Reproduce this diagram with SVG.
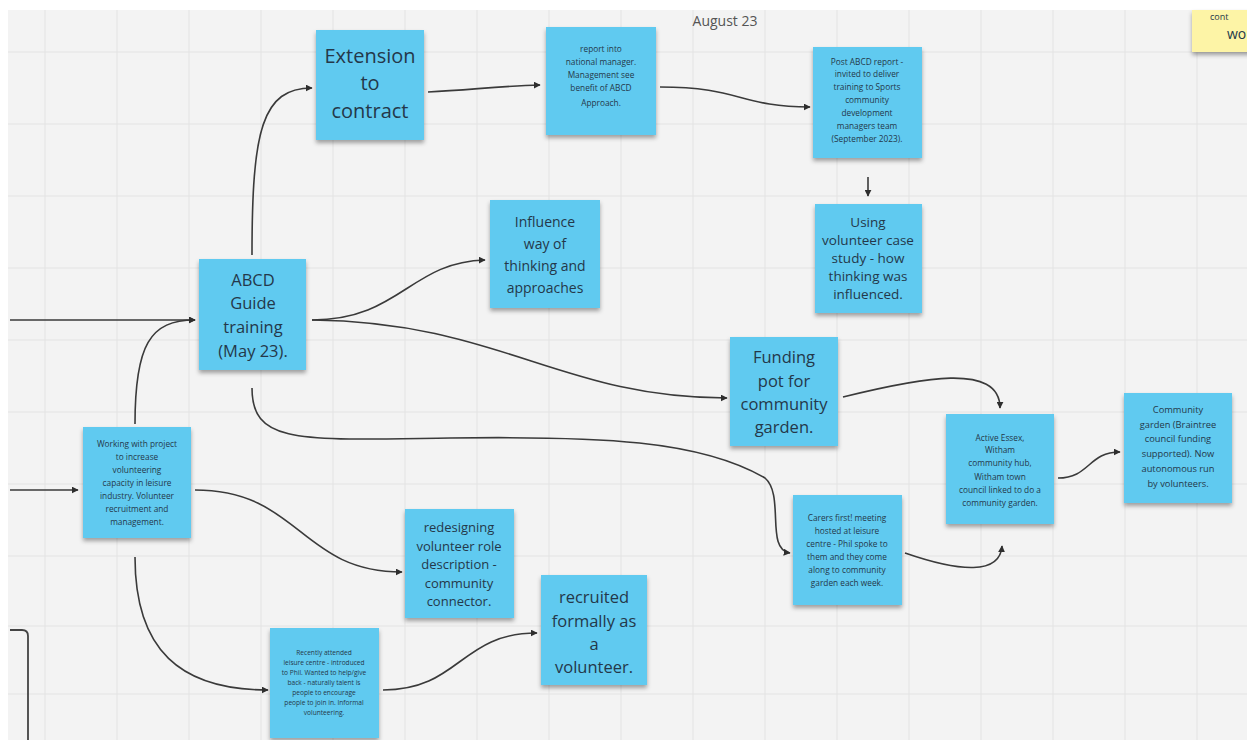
<svg xmlns="http://www.w3.org/2000/svg" width="1247" height="740" viewBox="0 0 1247 740">
<style>
.note{fill:#60caf0;filter:url(#sh)}
.t{font-family:"Open Sans","Noto Sans","Liberation Sans",sans-serif;fill:#24384a;text-anchor:middle;dominant-baseline:central}
.xl{font-size:20px}.l{font-size:16.5px}.m{font-size:13.5px}.s{font-size:8.3px}.xs{font-size:6.6px}
.c{fill:none;stroke:#3a3a3a;stroke-width:1.6;marker-end:url(#ah)}
.g{stroke:#e3e3e3;stroke-width:1}
</style>
<defs>
<filter id="sh" x="-10%" y="-10%" width="120%" height="130%"><feDropShadow dx="0" dy="3" stdDeviation="2" flood-color="#000" flood-opacity="0.35"/></filter>
<marker id="ah" viewBox="0 0 10 10" refX="9" refY="5" markerWidth="7" markerHeight="7" orient="auto" markerUnits="userSpaceOnUse"><path d="M0,0 L10,5 L0,10 z" fill="#2e2e2e"/></marker>
</defs>
<rect width="1247" height="740" fill="#ffffff"/>
<rect x="8" y="10" width="1239" height="730" fill="#f3f3f3"/>
<g id="grid">
<path class="g" d="M45,10V740M117,10V740M189,10V740M261,10V740M333,10V740M405,10V740M477,10V740M549,10V740M621,10V740M693,10V740M765,10V740M837,10V740M909,10V740M981,10V740M1053,10V740M1125,10V740M1197,10V740"/>
<path class="g" d="M8,52H1247M8,124H1247M8,196H1247M8,268H1247M8,340H1247M8,412H1247M8,484H1247M8,556H1247M8,626H1247M8,694H1247"/>
</g>
<text class="t" x="725" y="20" style="font-size:14px;fill:#555">August 23</text>
<g id="connectors">
<path class="c" d="M10,320 H195"/>
<path class="c" d="M135,424 C135,345 150,320 195,320"/>
<path class="c" d="M10,490 H78"/>
<path class="c" d="M252,255 C252,130 262,88 312,88"/>
<path class="c" d="M428,92 C470,90 500,86 540,85"/>
<path class="c" d="M660,87 C740,87 740,107 810,107"/>
<path class="c" d="M868,177 V196"/>
<path class="c" d="M312,320 C400,320 410,262 485,260"/>
<path class="c" d="M312,320 C500,322 560,398 727,398"/>
<path class="c" d="M252,388 C252,445 300,440 450,438 C600,436 700,440 765,478 C785,495 765,550 790,553"/>
<path class="c" d="M843,397 C920,378 1000,362 1000,408"/>
<path class="c" d="M905,553 C960,572 1000,575 1002,546"/>
<path class="c" d="M1058,478 C1090,478 1088,452 1120,452"/>
<path class="c" d="M195,490 C300,490 300,572 402,572"/>
<path class="c" d="M135,557 C135,650 180,690 268,690"/>
<path class="c" d="M383,690 C460,690 460,633 537,633"/>
<path d="M10,630 H22 Q28,630 28,636 V740" fill="none" stroke="#444" stroke-width="1.8"/>
</g>
<g id="n-extension"><rect class="note" x="316" y="30" width="108" height="110"/>
<text class="t xl" x="370"><tspan x="370" y="55">Extension</tspan><tspan x="370" y="82">to</tspan><tspan x="370" y="110">contract</tspan></text></g>
<g id="n-report"><rect class="note" x="546" y="27" width="110" height="108"/>
<text class="t s" x="601"><tspan x="601" y="48">report into</tspan><tspan x="601" y="61">national manager.</tspan><tspan x="601" y="74">Management see</tspan><tspan x="601" y="87">benefit of ABCD</tspan><tspan x="601" y="102">Approach.</tspan></text></g>
<g id="n-post"><rect class="note" x="813" y="47" width="109" height="111"/>
<text class="t s" x="867"><tspan x="867" y="61">Post ABCD report -</tspan><tspan x="867" y="73">invited to deliver</tspan><tspan x="867" y="86">training to Sports</tspan><tspan x="867" y="99">community</tspan><tspan x="867" y="112">development</tspan><tspan x="867" y="125">managers team</tspan><tspan x="867" y="138">(September 2023).</tspan></text></g>
<g id="n-using"><rect class="note" x="815" y="204" width="107" height="109"/>
<text class="t m" x="868"><tspan x="868" y="222">Using</tspan><tspan x="868" y="240">volunteer case</tspan><tspan x="868" y="258">study - how</tspan><tspan x="868" y="276">thinking was</tspan><tspan x="868" y="294">influenced.</tspan></text></g>
<g id="n-influence"><rect class="note" x="490" y="200" width="110" height="108"/>
<text class="t m" x="545" style="font-size:14px"><tspan x="545" y="221">Influence</tspan><tspan x="545" y="243">way of</tspan><tspan x="545" y="265">thinking and</tspan><tspan x="545" y="287">approaches</tspan></text></g>
<g id="n-abcd"><rect class="note" x="199" y="259" width="107" height="111"/>
<text class="t l" x="253"><tspan x="253" y="279">ABCD</tspan><tspan x="253" y="302">Guide</tspan><tspan x="253" y="326">training</tspan><tspan x="253" y="350">(May 23).</tspan></text></g>
<g id="n-funding"><rect class="note" x="730" y="337" width="108" height="109"/>
<text class="t l" x="784"><tspan x="784" y="356">Funding</tspan><tspan x="784" y="380">pot for</tspan><tspan x="784" y="403">community</tspan><tspan x="784" y="426">garden.</tspan></text></g>
<g id="n-active"><rect class="note" x="946" y="414" width="108" height="110"/>
<text class="t s" x="1000"><tspan x="1000" y="437">Active Essex,</tspan><tspan x="1000" y="449">Witham</tspan><tspan x="1000" y="462">community hub,</tspan><tspan x="1000" y="476">Witham town</tspan><tspan x="1000" y="489">council linked to do a</tspan><tspan x="1000" y="502">community garden.</tspan></text></g>
<g id="n-garden"><rect class="note" x="1124" y="393" width="108" height="110"/>
<text class="t" x="1178" style="font-size:9.3px"><tspan x="1178" y="409">Community</tspan><tspan x="1178" y="424">garden (Braintree</tspan><tspan x="1178" y="438">council funding</tspan><tspan x="1178" y="453">supported). Now</tspan><tspan x="1178" y="468">autonomous run</tspan><tspan x="1178" y="483">by volunteers.</tspan></text></g>
<g id="n-working"><rect class="note" x="83" y="427" width="108" height="111"/>
<text class="t s" x="137"><tspan x="137" y="443">Working with project</tspan><tspan x="137" y="456">to increase</tspan><tspan x="137" y="469">volunteering</tspan><tspan x="137" y="482">capacity in leisure</tspan><tspan x="137" y="495">industry. Volunteer</tspan><tspan x="137" y="508">recruitment and</tspan><tspan x="137" y="521">management.</tspan></text></g>
<g id="n-carers"><rect class="note" x="793" y="495" width="109" height="110"/>
<text class="t s" x="847"><tspan x="847" y="517">Carers first! meeting</tspan><tspan x="847" y="530">hosted at leisure</tspan><tspan x="847" y="543">centre - Phil spoke to</tspan><tspan x="847" y="556">them and they come</tspan><tspan x="847" y="569">along to community</tspan><tspan x="847" y="582">garden each week.</tspan></text></g>
<g id="n-redesign"><rect class="note" x="405" y="509" width="109" height="109"/>
<text class="t m" x="459" style="font-size:13px"><tspan x="459" y="527">redesigning</tspan><tspan x="459" y="546">volunteer role</tspan><tspan x="459" y="564">description -</tspan><tspan x="459" y="583">community</tspan><tspan x="459" y="601">connector.</tspan></text></g>
<g id="n-recruited"><rect class="note" x="541" y="575" width="106" height="110"/>
<text class="t l" x="594"><tspan x="594" y="596">recruited</tspan><tspan x="594" y="620">formally as</tspan><tspan x="594" y="643">a</tspan><tspan x="594" y="666">volunteer.</tspan></text></g>
<g id="n-recently"><rect class="note" x="270" y="628" width="109" height="110"/>
<text class="t xs" x="324"><tspan x="324" y="652">Recently attended</tspan><tspan x="324" y="662">leisure centre - introduced</tspan><tspan x="324" y="672">to Phil. Wanted to help/give</tspan><tspan x="324" y="682">back - naturally talent is</tspan><tspan x="324" y="692">people to encourage</tspan><tspan x="324" y="702">people to join in. Informal</tspan><tspan x="324" y="712">volunteering.</tspan></text></g>
<g id="n-yellow"><rect x="1192" y="10" width="60" height="42" fill="#fdf4a6" filter="url(#sh)"/>
<text class="t" x="1210" y="16" style="font-size:9px;text-anchor:start">cont</text>
<text class="t" x="1227" y="33" style="font-size:14px;text-anchor:start">wo</text></g>
</svg>
